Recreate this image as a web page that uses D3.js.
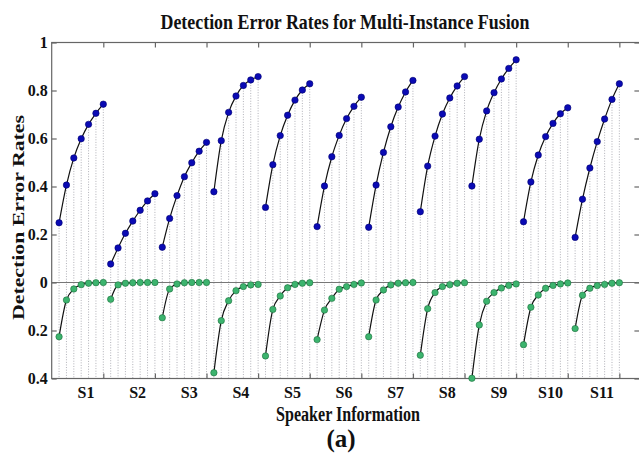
<!DOCTYPE html>
<html>
<head>
<meta charset="utf-8">
<script src="https://cdn.jsdelivr.net/npm/d3@7"></script>
<style>
  html, body { margin: 0; padding: 0; background: #fff; }
  svg { display: block; }
  text { font-family: "Liberation Serif", "Times New Roman", serif; font-weight: bold; fill: #111; }
</style>
</head>
<body>
<svg id="chart" width="639" height="455"></svg>
<script>
// ---- data ----
const speakers = ["S1","S2","S3","S4","S5","S6","S7","S8","S9","S10","S11"];
const instancesPerSpeaker = 7;
// detection error rate (upper, blue)
const errorAbove = [
  [0.249, 0.406, 0.519, 0.599, 0.659, 0.705, 0.743],
  [0.077, 0.144, 0.205, 0.256, 0.301, 0.340, 0.370],
  [0.147, 0.267, 0.362, 0.441, 0.499, 0.547, 0.584],
  [0.378, 0.591, 0.709, 0.777, 0.821, 0.844, 0.858],
  [0.313, 0.491, 0.612, 0.697, 0.760, 0.802, 0.828],
  [0.233, 0.402, 0.524, 0.613, 0.683, 0.734, 0.772],
  [0.230, 0.406, 0.542, 0.649, 0.731, 0.794, 0.842],
  [0.295, 0.485, 0.610, 0.702, 0.769, 0.819, 0.858],
  [0.402, 0.597, 0.715, 0.791, 0.848, 0.892, 0.928],
  [0.253, 0.419, 0.531, 0.608, 0.663, 0.703, 0.728],
  [0.188, 0.347, 0.477, 0.587, 0.681, 0.763, 0.828]
];
// detection error rate (lower, green, drawn downward)
const errorBelow = [
  [0.226, 0.073, 0.027, 0.009, 0.003, 0.001, 0.000],
  [0.070, 0.010, 0.003, 0.001, 0.000, 0.000, 0.000],
  [0.147, 0.027, 0.006, 0.001, 0.000, 0.000, 0.000],
  [0.376, 0.159, 0.076, 0.034, 0.017, 0.010, 0.008],
  [0.306, 0.112, 0.056, 0.022, 0.008, 0.003, 0.001],
  [0.238, 0.115, 0.066, 0.028, 0.017, 0.008, 0.002],
  [0.226, 0.073, 0.031, 0.010, 0.003, 0.001, 0.000],
  [0.303, 0.109, 0.042, 0.017, 0.009, 0.003, 0.001],
  [0.399, 0.177, 0.078, 0.042, 0.023, 0.012, 0.006],
  [0.259, 0.103, 0.052, 0.024, 0.012, 0.006, 0.002],
  [0.192, 0.053, 0.024, 0.013, 0.008, 0.003, 0.001]
];
const yTicks = [-0.4, -0.2, 0, 0.2, 0.4, 0.6, 0.8, 1];
const xTicks = [1,2,3,4,5,6,7,8,9,10,11];

const titleText = "Detection Error Rates for Multi-Instance Fusion";
const xLabelText = "Speaker Information";
const yLabelText = "Detection Error Rates";
const captionText = "(a)";

// ---- layout ----
const svg = d3.select("#chart");
const L = 51.7, R = 640, T = 42.5, B = 378.5;
const x = d3.scaleLinear().domain([0, 11.4]).range([L, R]);
const y = d3.scaleLinear().domain([-0.4, 1]).range([B, T]);

const xOf = (s, j) => s + (j + 1) / instancesPerSpeaker;

// dotted stems
const g = svg.append("g");
errorAbove.forEach((vals, s) => {
  vals.forEach((v, j) => {
    g.append("line")
      .attr("x1", x(xOf(s, j))).attr("x2", x(xOf(s, j)))
      .attr("y1", y(v)).attr("y2", y(-0.4))
      .attr("stroke", "#a8a8b0").attr("stroke-width", 0.9)
      .attr("stroke-dasharray", "1,1.6");
  });
});

// zero line
svg.append("line")
  .attr("x1", L).attr("x2", R).attr("y1", y(0)).attr("y2", y(0))
  .attr("stroke", "#777").attr("stroke-width", 1.2);

// frame
svg.append("rect").attr("x", L).attr("y", T).attr("width", R - L).attr("height", B - T)
  .attr("fill", "none").attr("stroke", "#666").attr("stroke-width", 1.2);

// axes ticks
const axL = d3.axisLeft(y).tickValues(yTicks).tickSizeInner(-5).tickSizeOuter(0).tickPadding(4)
  .tickFormat(d => d === 1 ? "1" : d === 0 ? "0" : Math.abs(d).toFixed(1));
const gl = svg.append("g").attr("transform", `translate(${L},0)`).call(axL);
gl.select(".domain").remove();
gl.selectAll(".tick line").attr("stroke", "#666").attr("stroke-width", 1.2);
gl.selectAll(".tick text").style("font-size", "16px").style("font-family", '"Liberation Serif", serif')
  .style("font-weight", "bold").attr("fill", "#111");

const axR = d3.axisRight(y).tickValues(yTicks).tickSizeInner(-5).tickSizeOuter(0).tickFormat("");
const gr = svg.append("g").attr("transform", `translate(${R - 0.6},0)`).call(axR);
gr.select(".domain").remove();
gr.selectAll(".tick line").attr("stroke", "#666").attr("stroke-width", 1.2);

const axT = d3.axisTop(x).tickValues(xTicks).tickSizeInner(-5).tickSizeOuter(0).tickFormat("");
const gt = svg.append("g").attr("transform", `translate(0,${T})`).call(axT);
gt.select(".domain").remove();
gt.selectAll(".tick line").attr("stroke", "#666").attr("stroke-width", 1.2);

const axB = d3.axisBottom(x).tickValues(xTicks).tickSizeInner(-5).tickSizeOuter(0).tickFormat("");
const gb = svg.append("g").attr("transform", `translate(0,${B})`).call(axB);
gb.select(".domain").remove();
gb.selectAll(".tick line").attr("stroke", "#666").attr("stroke-width", 1.2);

// speaker labels
svg.append("g").selectAll("text").data(speakers).join("text")
  .attr("x", (d, i) => x(i + 1 - 0.335)).attr("y", 398)
  .attr("text-anchor", "middle").style("font-size", "16px")
  .text(d => d);

// curves
const line = d3.line().x(d => x(d[0])).y(d => y(d[1])).curve(d3.curveMonotoneX);
errorAbove.forEach((vals, s) => {
  svg.append("path").attr("d", line(vals.map((v, j) => [xOf(s, j), v])))
    .attr("fill", "none").attr("stroke", "#111").attr("stroke-width", 1.2);
});
errorBelow.forEach((vals, s) => {
  svg.append("path").attr("d", line(vals.map((v, j) => [xOf(s, j), -v])))
    .attr("fill", "none").attr("stroke", "#111").attr("stroke-width", 1.2);
});

// points
errorAbove.forEach((vals, s) => {
  svg.append("g").selectAll("circle").data(vals).join("circle")
    .attr("cx", (d, j) => x(xOf(s, j))).attr("cy", d => y(d)).attr("r", 3.2)
    .attr("fill", "#0a0ab4").attr("stroke", "#000070").attr("stroke-width", 0.6);
});
errorBelow.forEach((vals, s) => {
  svg.append("g").selectAll("circle").data(vals).join("circle")
    .attr("cx", (d, j) => x(xOf(s, j))).attr("cy", d => y(-d)).attr("r", 3.2)
    .attr("fill", "#3cb46e").attr("stroke", "#1d6e3c").attr("stroke-width", 0.6);
});

// titles
svg.append("text").attr("x", 345).attr("y", 29).attr("text-anchor", "middle")
  .style("font-size", "21px").attr("textLength", 369).attr("lengthAdjust", "spacingAndGlyphs")
  .text(titleText);
svg.append("text").attr("x", 348).attr("y", 421).attr("text-anchor", "middle")
  .style("font-size", "20px").attr("textLength", 144).attr("lengthAdjust", "spacingAndGlyphs")
  .text(xLabelText);
svg.append("text").attr("transform", "translate(24,217.5) scale(0.8,1) rotate(-90)")
  .attr("text-anchor", "middle")
  .style("font-size", "21px").attr("textLength", 205).attr("lengthAdjust", "spacingAndGlyphs")
  .text(yLabelText);
svg.append("text").attr("x", 341).attr("y", 447).attr("text-anchor", "middle")
  .style("font-size", "25px")
  .text(captionText);
</script>
</body>
</html>
